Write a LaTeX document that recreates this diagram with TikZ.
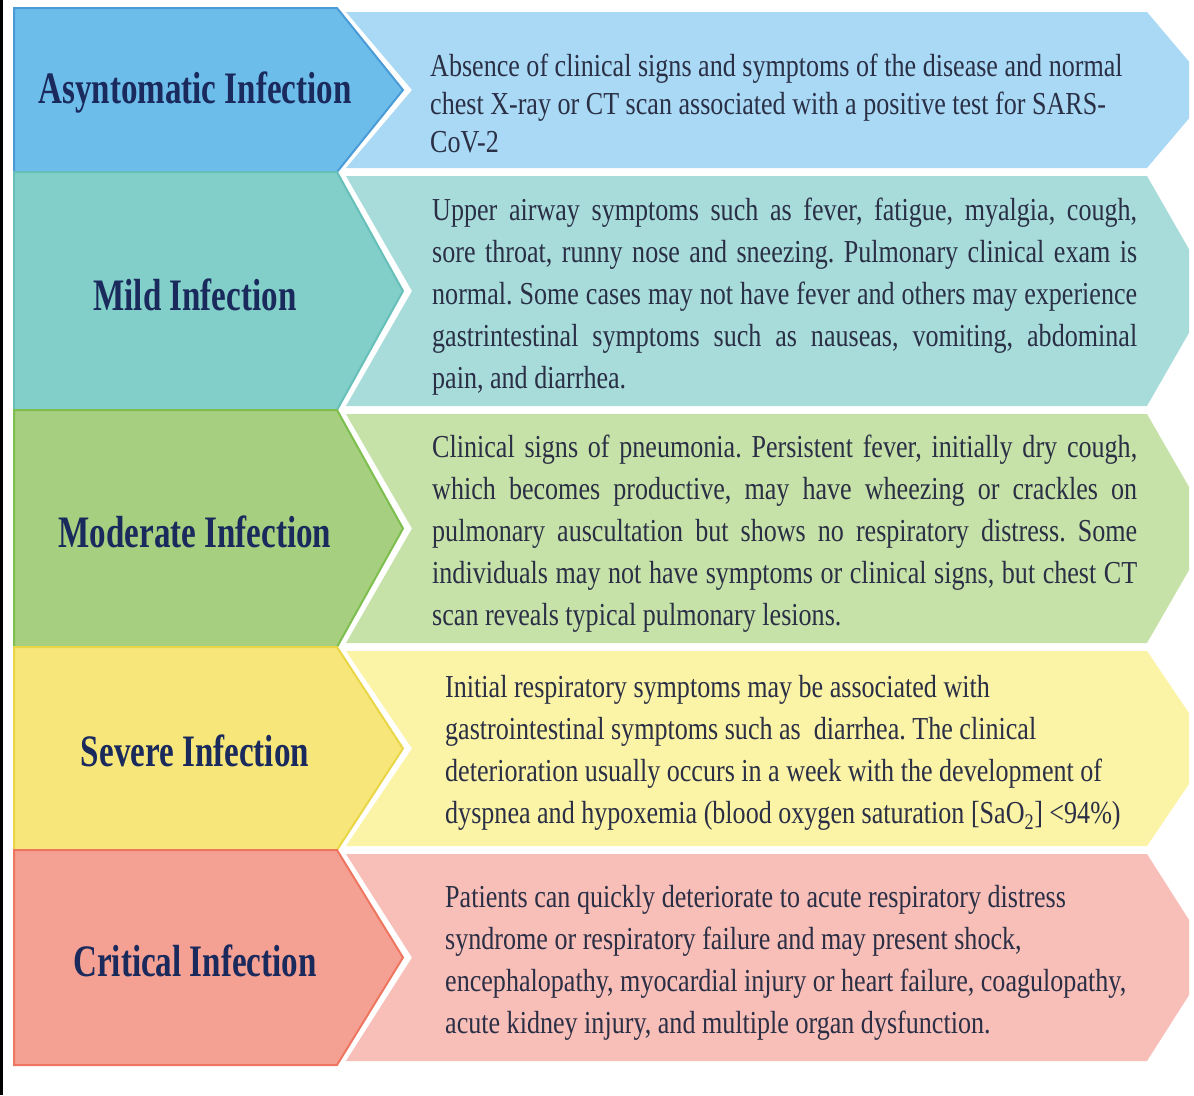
\documentclass[tikz,border=0pt]{standalone}
\usepackage{fontspec}
\setmainfont{Liberation Serif}[FakeStretch=0.735]
\newfontfamily\descfont{Liberation Serif}[FakeStretch=0.815]
\definecolor{navy}{HTML}{1B2A5C}
\definecolor{ink}{HTML}{2A2F45}
\definecolor{bluL}{HTML}{6DBDEB}\definecolor{bluE}{HTML}{4A9BD6}\definecolor{bluR}{HTML}{A9D9F5}
\definecolor{tealL}{HTML}{82CFC9}\definecolor{tealE}{HTML}{66C0B9}\definecolor{tealR}{HTML}{A8DCDB}
\definecolor{grnL}{HTML}{A6D07F}\definecolor{grnE}{HTML}{7DBE4E}\definecolor{grnR}{HTML}{C7E2A8}
\definecolor{ylwL}{HTML}{F7E77A}\definecolor{ylwE}{HTML}{E9D646}\definecolor{ylwR}{HTML}{FBF3A6}
\definecolor{redL}{HTML}{F4A092}\definecolor{redE}{HTML}{EE7660}\definecolor{redR}{HTML}{F8BEB8}
\frenchspacing

\begin{document}
\begin{tikzpicture}[x=1pt, y=-1pt,
  title/.style={font=\fontsize{45}{50}\selectfont\bfseries, text=navy, inner sep=0pt},
  desc/.style={font=\descfont\fontsize{32}{42}\selectfont, text=ink, inner sep=0pt, anchor=west, align=left},
  descj/.style={desc, text width=705pt, align=justify}]
\useasboundingbox (0,0) rectangle (1194,1095);
% frame line on the left
\draw[line width=3pt] (1.5,0) -- (1.5,1095);
% --- chevron rows: top / bottom / left fill / left edge / right fill ---
\begin{scope}
\clip (0,0) rectangle (1189,1095);
\foreach \yt/\yb/\cA/\cB/\cC in {8/172/bluL/bluE/bluR, 172/410/tealL/tealE/tealR,
    410/647/grnL/grnE/grnR, 647/850/ylwL/ylwE/ylwR, 850/1065/redL/redE/redR}{
  \pgfmathsetmacro\ym{(\yt+\yb)/2}
  \fill[\cC] (346,\yt+4) -- (1147,\yt+4) -- (1213,\ym) -- (1147,\yb-4)
    -- (346,\yb-4) -- (412,\ym) -- cycle;
  \filldraw[fill=\cA, draw=\cB, line width=2pt] (14,\yt) -- (337,\yt) -- (403,\ym)
    -- (337,\yb) -- (14,\yb) -- cycle;
}
\end{scope}
% --- stage names ---
\node[title] (asym) at (195,93) {Asyntomatic Infection};
\node[title] (mild) at (195,295) {Mild Infection};
\node[title] (mod)  at (195,532) {Moderate Infection};
\node[title] (sev)  at (195,751) {Severe Infection};
\node[title] (crit) at (195,961) {Critical Infection};
% --- descriptions ---
\node[desc, font=\descfont\fontsize{32}{38}\selectfont] (asymtxt) at (430,103)
 {Absence of clinical signs and symptoms of the disease and normal\\
  chest X-ray or CT scan associated with a positive test for SARS-\\
  CoV-2};
\node[descj] (mildtxt) at (432,297)
 {\sloppy Upper airway symptoms such as fever, fatigue, myalgia, cough,\linebreak
  sore throat, runny nose and sneezing. Pulmonary clinical exam is\linebreak
  normal. Some cases may not have fever and others may experience\linebreak
  gastrintestinal symptoms such as nauseas, vomiting, abdominal\linebreak
  pain, and diarrhea.};
\node[descj] (modtxt) at (432,534)
 {\sloppy Clinical signs of pneumonia. Persistent fever, initially dry cough,\linebreak
  which becomes productive, may have wheezing or crackles on\linebreak
  pulmonary auscultation but shows no respiratory distress. Some\linebreak
  individuals may not have symptoms or clinical signs, but chest CT\linebreak
  scan reveals typical pulmonary lesions.};
\node[desc] (sevtxt) at (445,753)
 {Initial respiratory symptoms may be associated with\\
  gastrointestinal symptoms such as\ \ diarrhea. The clinical\\
  deterioration usually occurs in a week with the development of\\
  dyspnea and hypoxemia (blood oxygen saturation [SaO\textsubscript{2}] <94\%)};
\node[desc] (crittxt) at (445,963)
 {Patients can quickly deteriorate to acute respiratory distress\\
  syndrome or respiratory failure and may present shock,\\
  encephalopathy, myocardial injury or heart failure, coagulopathy,\\
  acute kidney injury, and multiple organ dysfunction.};
\end{tikzpicture}
\end{document}
